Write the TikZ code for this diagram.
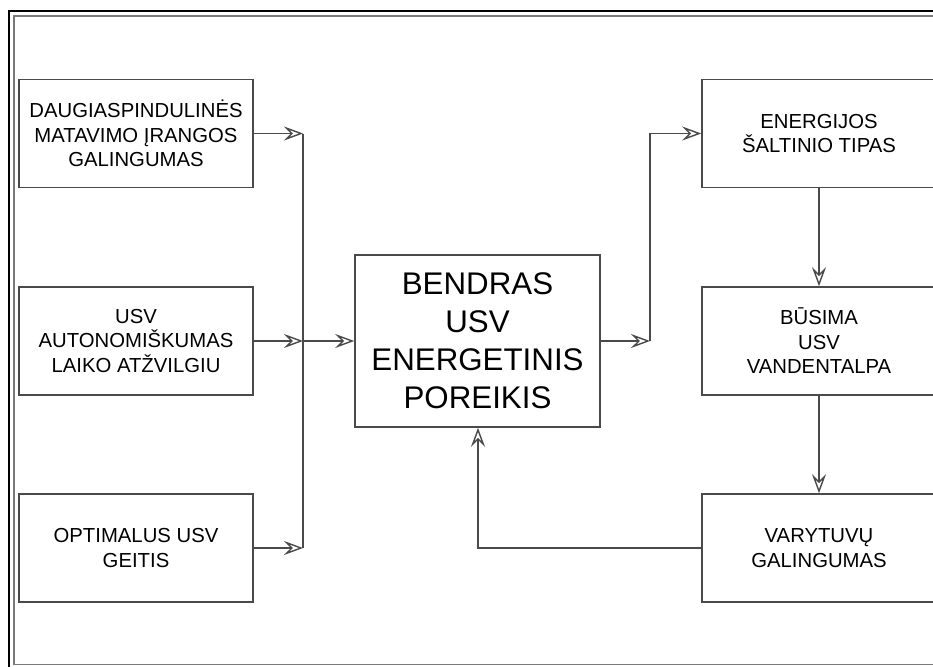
\documentclass[tikz,border=0pt]{standalone}
\usepackage{fontspec}
\setmainfont{Liberation Sans}
\usetikzlibrary{arrows.meta}
\definecolor{linegray}{HTML}{4A4A4A}
\definecolor{framegray}{HTML}{7A7A7A}
\tikzset{
  blk/.style={draw=linegray, line width=1.6pt, minimum width=234pt, minimum height=108pt,
    align=center, inner sep=0pt, font=\fontsize{20.3}{24.5}\selectfont},
  bigblk/.style={draw=linegray, line width=1.6pt, minimum width=245pt, minimum height=172pt,
    align=center, inner sep=0pt, font=\fontsize{31.3}{38}\selectfont},
  conn/.style={draw=linegray, line width=1.5pt},
  arr/.style={conn, -{Stealth[open, length=19pt, width=14pt, inset=7pt, line width=1.4pt]}}
}
\begin{document}
\begin{tikzpicture}[x=1pt, y=-1pt]
\useasboundingbox (0,0) rectangle (933,666);
\begin{scope}
\clip (0,0) rectangle (933,666);
% frame
\draw[black, line width=2.8pt] (9,11) rectangle (980,700);
\draw[framegray, line width=1.5pt] (14,16) rectangle (970,664.5);
% left boxes
\node[blk] (b1) at (136,133.5) {DAUGIASPINDULINĖS\\MATAVIMO ĮRANGOS\\GALINGUMAS};
\node[blk] (b2) at (136,341) {USV\\AUTONOMIŠKUMAS\\LAIKO ATŽVILGIU};
\node[blk] (b3) at (136,548) {OPTIMALUS USV\\GEITIS};
% center
\node[bigblk] (c) at (477.5,341) {BENDRAS\\USV\\ENERGETINIS\\POREIKIS};
% right boxes
\node[blk] (r1) at (819,133.5) {ENERGIJOS\\ŠALTINIO TIPAS};
\node[blk] (r2) at (819,341) {BŪSIMA\\USV\\VANDENTALPA};
\node[blk] (r3) at (819,548) {VARYTUVŲ\\GALINGUMAS};
% bus coordinates
\coordinate (bt) at (303,133.5);
\coordinate (bm) at (303,341);
\coordinate (bb) at (303,548);
\coordinate (ot) at (650,133.5);
\coordinate (om) at (650,341);
\coordinate (fr) at (478,548);
% connectors
\draw[arr] (b1.east) -- (bt);
\draw[arr] (b2.east) -- (bm);
\draw[arr] (b3.east) -- (bb);
\draw[conn] (bt) -- (bb);
\draw[arr] (bm) -- (c.west);
\draw[arr] (c.east) -- (om);
\draw[arr] (om) -- (ot) -- (r1.west);
\draw[arr] (r1.south) -- (r2.north);
\draw[arr] (r2.south) -- (r3.north);
\draw[arr] (r3.west) -- (fr) -- (fr |- c.south);
\end{scope}
\end{tikzpicture}
\end{document}
